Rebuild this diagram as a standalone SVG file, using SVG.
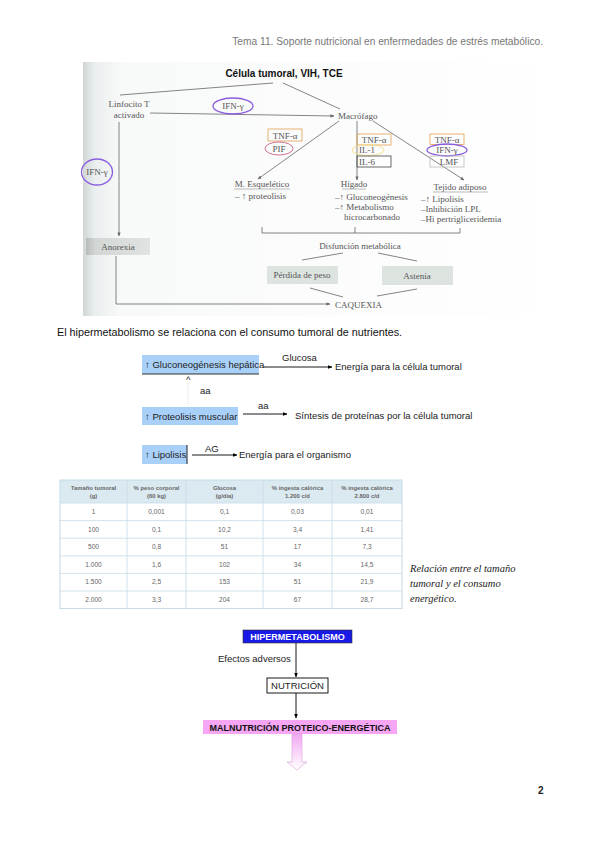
<svg xmlns="http://www.w3.org/2000/svg" width="599" height="848" viewBox="0 0 599 848">
<defs>
<linearGradient id="scanL" x1="0" y1="0" x2="1" y2="0">
<stop offset="0" stop-color="#d0d6d6"/><stop offset="0.025" stop-color="#eaeeee"/><stop offset="0.08" stop-color="#f8f9f9"/><stop offset="1" stop-color="#ffffff"/>
</linearGradient>
<linearGradient id="anorex" x1="0" y1="0" x2="1" y2="0">
<stop offset="0" stop-color="#b8bcbc"/><stop offset="0.15" stop-color="#d2d6d4"/><stop offset="1" stop-color="#dfe3e1"/>
</linearGradient>
<linearGradient id="pinkArrow" x1="0" y1="0" x2="0" y2="1">
<stop offset="0" stop-color="#f2a8f2"/><stop offset="1" stop-color="#ffffff"/>
</linearGradient>
<marker id="ag" viewBox="0 0 10 10" refX="9" refY="5" markerWidth="5" markerHeight="5" orient="auto">
<path d="M0,1 L10,5 L0,9 z" fill="#666"/>
</marker>
<marker id="ab" viewBox="0 0 10 10" refX="9" refY="5" markerWidth="5" markerHeight="5" orient="auto">
<path d="M0,1 L10,5 L0,9 z" fill="#000"/>
</marker>
<style>
.hdr{font-family:"Liberation Sans",Arial,sans-serif;font-size:10.2px;fill:#777}
.body{font-family:"Liberation Sans",Arial,sans-serif;font-size:10.8px;fill:#111}
.sc{font-family:"Liberation Serif","Times New Roman",serif;font-size:9px;fill:#555}
.scb{font-family:"Liberation Sans",Arial,sans-serif;font-size:10px;font-weight:bold;fill:#111}
.fl{font-family:"Liberation Sans",Arial,sans-serif;font-size:9.5px;fill:#222}
.tb{font-family:"Liberation Sans",Arial,sans-serif;font-size:6.6px;fill:#666;text-anchor:middle}
.th{font-family:"Liberation Sans",Arial,sans-serif;font-size:5.9px;font-weight:bold;fill:#666;text-anchor:middle}
.cap{font-family:"Liberation Serif","Times New Roman",serif;font-size:10.5px;font-style:italic;fill:#222}
.bx{font-family:"Liberation Sans",Arial,sans-serif;font-size:9px;font-weight:bold;text-anchor:middle}
.gl{stroke:#666;stroke-width:0.8;fill:none}
.bl{stroke:#000;stroke-width:0.9;fill:none}
.mid{text-anchor:middle}
</style>
</defs>
<rect width="599" height="848" fill="#ffffff"/>

<text class="hdr" x="543" y="45" text-anchor="end">Tema 11. Soporte nutricional en enfermedades de estrés metabólico.</text>

<!-- scanned figure background -->
<rect x="83" y="62" width="473" height="254" fill="url(#scanL)"/>

<g id="connectors">
<!-- scanned figure -->
<line class="gl" x1="273" y1="83" x2="120" y2="95"/>
<line class="gl" x1="283" y1="83" x2="340" y2="109"/>
<line class="gl" x1="150" y1="113" x2="334" y2="116" marker-end="url(#ag)"/>
<line class="gl" x1="119" y1="122" x2="119" y2="236" marker-end="url(#ag)"/>
<line class="gl" x1="339" y1="121" x2="258" y2="179" marker-end="url(#ag)"/>
<line class="gl" x1="357" y1="121" x2="357" y2="180" marker-end="url(#ag)"/>
<line class="gl" x1="373" y1="121" x2="464" y2="180" marker-end="url(#ag)"/>
<polyline class="gl" points="262,227 262,233 460,233 460,228"/>
<line class="gl" x1="355" y1="227" x2="355" y2="233"/>
<line class="gl" x1="343" y1="253" x2="302" y2="260"/>
<line class="gl" x1="378" y1="253" x2="417" y2="261"/>
<line class="gl" x1="310" y1="288" x2="343" y2="297"/>
<line class="gl" x1="417" y1="289" x2="377" y2="296"/>
<polyline class="gl" points="116,256 116,304 330,304" marker-end="url(#ag)"/>
<!-- flow 1 -->
<line class="bl" x1="263" y1="367" x2="332" y2="367" stroke-width="0.7" marker-end="url(#ab)"/>
<line x1="188" y1="383" x2="188" y2="405" stroke="#ccc" stroke-width="0.7" stroke-dasharray="1,1"/>
<line class="bl" x1="243" y1="414" x2="287" y2="414" stroke-width="0.7" marker-end="url(#ab)"/>
<line class="bl" x1="192" y1="455" x2="237" y2="455" stroke-width="0.7" marker-end="url(#ab)"/>
<!-- bottom flow -->
<line class="bl" x1="296" y1="643" x2="296" y2="677" stroke-width="1.1" marker-end="url(#ab)"/>
<line class="bl" x1="296" y1="693" x2="296" y2="718" stroke-width="1.1" marker-end="url(#ab)"/>
</g>

<text class="scb mid" x="284" y="77">Célula tumoral, VIH, TCE</text>

<g id="linfocito">
<text class="sc mid" x="129" y="107">Linfocito T</text>
<text class="sc mid" x="129" y="118">activado</text>
</g>
<g id="ifn-top">
<ellipse cx="233" cy="106" rx="20" ry="8" fill="none" stroke="#8a5ce0" stroke-width="1.3"/>
<text class="sc mid" x="233" y="109" font-size="8">IFN-γ</text>
</g>
<g id="ifn-left">
<ellipse cx="97" cy="172" rx="15.5" ry="13" fill="none" stroke="#8a5ce0" stroke-width="1.3"/>
<text class="sc mid" x="97" y="175" font-size="8">IFN-γ</text>
</g>
<g id="macrofago">
<text class="sc" x="338" y="119">Macrófago</text>
</g>
<g id="cyto-left">
<rect x="268" y="129" width="34" height="12" fill="none" stroke="#e0a050" stroke-width="0.8"/>
<text class="sc mid" x="285" y="139" font-size="8.5">TNF-α</text>
<ellipse cx="279" cy="148.5" rx="14" ry="6.5" fill="none" stroke="#c8608a" stroke-width="0.9"/>
<text class="sc mid" x="279" y="151.5" font-size="8.5">PIF</text>
</g>
<g id="cyto-mid">
<rect x="357" y="134" width="34" height="11" fill="none" stroke="#e0a050" stroke-width="0.8"/>
<text class="sc mid" x="374" y="143" font-size="8.5">TNF-α</text>
<ellipse cx="368" cy="150" rx="16" ry="5.5" fill="none" stroke="#f5dc80" stroke-width="0.9"/>
<text class="sc" x="359" y="153" font-size="8.5">IL-1</text>
<rect x="357" y="156" width="34" height="11" fill="none" stroke="#444" stroke-width="0.8"/>
<text class="sc" x="359" y="165" font-size="8.5">IL-6</text>
</g>
<g id="cyto-right">
<rect x="430" y="134" width="34" height="10.5" fill="none" stroke="#e0a050" stroke-width="0.8"/>
<text class="sc mid" x="447" y="142.5" font-size="8.5">TNF-α</text>
<ellipse cx="447" cy="150" rx="20" ry="6" fill="none" stroke="#8a5ce0" stroke-width="1.3"/>
<text class="sc mid" x="447" y="153" font-size="8.5">IFN-γ</text>
<rect x="430" y="156" width="34" height="11" fill="none" stroke="#bbb" stroke-width="0.8"/>
<text class="sc mid" x="449" y="165" font-size="8.5">LMF</text>
</g>
<g id="m-esqueletico">
<text class="sc mid" x="262" y="187">M. Esquelético</text>
<line x1="234" y1="189" x2="290" y2="189" stroke="#777" stroke-width="0.5"/>
<text class="sc" x="235" y="199">– ↑ proteolisis</text>
</g>
<g id="higado">
<text class="sc mid" x="354" y="187">Hígado</text>
<line x1="342" y1="189" x2="366" y2="189" stroke="#777" stroke-width="0.5"/>
<text class="sc" x="335" y="200">–↑ Gluconeogénesis</text>
<text class="sc" x="335" y="210">–↑ Metabolismo</text>
<text class="sc" x="344" y="220">hicrocarbonado</text>
</g>
<g id="tejido">
<text class="sc mid" x="460" y="190">Tejido adiposo</text>
<line x1="433" y1="192" x2="488" y2="192" stroke="#777" stroke-width="0.5"/>
<text class="sc" x="421" y="202">–↑ Lipolisis</text>
<text class="sc" x="421" y="212">–Inhibición LPL</text>
<text class="sc" x="421" y="222">–Hi pertrigliceridemia</text>
</g>
<g id="disfuncion">
<text class="sc mid" x="360" y="249">Disfunción metabólica</text>
</g>
<g id="anorexia">
<rect x="86" y="238" width="64" height="17" fill="url(#anorex)"/>
<text class="sc mid" x="118" y="250" font-size="8.5">Anorexia</text>
</g>
<g id="perdida">
<rect x="267" y="266" width="71" height="18" fill="#dde4e0"/>
<text class="sc mid" x="302" y="278" font-size="8.5">Pérdida de peso</text>
</g>
<g id="astenia">
<rect x="382" y="266" width="71" height="19" fill="#dde4e0"/>
<text class="sc mid" x="417" y="279" font-size="8.5">Astenia</text>
</g>
<g id="caquexia">
<text class="sc" x="335" y="308" font-size="8.5">CAQUEXIA</text>
</g>

<text class="body" x="57" y="336">El hipermetabolismo se relaciona con el consumo tumoral de nutrientes.</text>

<g id="gluconeo">
<rect x="142" y="355" width="117" height="19" fill="#a8d0f8"/>
<line x1="142" y1="374" x2="259" y2="374" stroke="#333" stroke-width="1"/>
<text class="fl" x="145" y="368">↑ Gluconeogénesis hepática</text>
</g>
<text class="fl" x="282" y="361">Glucosa</text>
<text class="fl" x="335" y="370">Energía para la célula tumoral</text>
<text class="fl" x="186" y="383" font-size="8">^</text>
<text class="fl" x="200" y="394">aa</text>
<g id="proteolisis">
<rect x="142" y="407" width="96" height="18" fill="#a8d0f8"/>
<text class="fl" x="145" y="420">↑ Proteolisis muscular</text>
</g>
<text class="fl" x="258" y="409">aa</text>
<text class="fl" x="295" y="419">Síntesis de proteínas por la célula tumoral</text>
<g id="lipolisis">
<rect x="142" y="445" width="45" height="19" fill="#a8d0f8"/>
<line x1="187" y1="445" x2="187" y2="464" stroke="#222" stroke-width="1"/>
<text class="fl" x="145" y="458">↑ Lipolisis</text>
</g>
<text class="fl" x="205" y="452">AG</text>
<text class="fl" x="239" y="458">Energía para el organismo</text>

<g id="tabla">
<rect x="60" y="480" width="342" height="23" fill="#dbe9f1"/>
<rect x="60" y="480" width="342" height="128.6" fill="none" stroke="#c5dbe7" stroke-width="1"/>
<g stroke="#c5dbe7" stroke-width="0.8">
<line x1="127" y1="480" x2="127" y2="608.6"/>
<line x1="186" y1="480" x2="186" y2="608.6"/>
<line x1="263" y1="480" x2="263" y2="608.6"/>
<line x1="332" y1="480" x2="332" y2="608.6"/>
<line x1="60" y1="503" x2="402" y2="503"/>
<line x1="60" y1="520.6" x2="402" y2="520.6"/>
<line x1="60" y1="538.2" x2="402" y2="538.2"/>
<line x1="60" y1="555.8" x2="402" y2="555.8"/>
<line x1="60" y1="573.4" x2="402" y2="573.4"/>
<line x1="60" y1="591" x2="402" y2="591"/>
</g>
<text class="th" x="93.5" y="489.5">Tamaño tumoral</text><text class="th" x="93.5" y="497.5">(g)</text>
<text class="th" x="156.5" y="489.5">% peso corporal</text><text class="th" x="156.5" y="497.5">(60 kg)</text>
<text class="th" x="224.5" y="489.5">Glucosa</text><text class="th" x="224.5" y="497.5">(g/día)</text>
<text class="th" x="297.5" y="489.5">% ingesta calórica</text><text class="th" x="297.5" y="497.5">1.200 c/d</text>
<text class="th" x="367" y="489.5">% ingesta calórica</text><text class="th" x="367" y="497.5">2.800 c/d</text>
<g>
<text class="tb" x="93.5" y="514">1</text><text class="tb" x="156.5" y="514">0,001</text><text class="tb" x="224.5" y="514">0,1</text><text class="tb" x="297.5" y="514">0,03</text><text class="tb" x="367" y="514">0,01</text>
<text class="tb" x="93.5" y="531.6">100</text><text class="tb" x="156.5" y="531.6">0,1</text><text class="tb" x="224.5" y="531.6">10,2</text><text class="tb" x="297.5" y="531.6">3,4</text><text class="tb" x="367" y="531.6">1,41</text>
<text class="tb" x="93.5" y="549.2">500</text><text class="tb" x="156.5" y="549.2">0,8</text><text class="tb" x="224.5" y="549.2">51</text><text class="tb" x="297.5" y="549.2">17</text><text class="tb" x="367" y="549.2">7,3</text>
<text class="tb" x="93.5" y="566.8">1.000</text><text class="tb" x="156.5" y="566.8">1,6</text><text class="tb" x="224.5" y="566.8">102</text><text class="tb" x="297.5" y="566.8">34</text><text class="tb" x="367" y="566.8">14,5</text>
<text class="tb" x="93.5" y="584.4">1.500</text><text class="tb" x="156.5" y="584.4">2,5</text><text class="tb" x="224.5" y="584.4">153</text><text class="tb" x="297.5" y="584.4">51</text><text class="tb" x="367" y="584.4">21,9</text>
<text class="tb" x="93.5" y="602">2.000</text><text class="tb" x="156.5" y="602">3,3</text><text class="tb" x="224.5" y="602">204</text><text class="tb" x="297.5" y="602">67</text><text class="tb" x="367" y="602">28,7</text>
</g>
</g>

<g id="caption">
<text class="cap" x="410" y="572">Relación entre el tamaño</text>
<text class="cap" x="410" y="587">tumoral y el consumo</text>
<text class="cap" x="410" y="602">energético.</text>
</g>

<g id="hipermetabolismo">
<rect x="243" y="630" width="109" height="13" fill="#1a1ae6" stroke="#333" stroke-width="0.6"/>
<text class="bx" x="297.5" y="640" fill="#ffffff">HIPERMETABOLISMO</text>
</g>
<text class="fl" x="218" y="662" font-size="8.5">Efectos adversos</text>
<g id="nutricion">
<rect x="267" y="678" width="61" height="15" fill="#ffffff" stroke="#000" stroke-width="0.9"/>
<text class="fl mid" x="297.5" y="689" font-size="8.5">NUTRICIÓN</text>
</g>
<g id="malnutricion">
<rect x="203" y="720" width="194" height="14" fill="#f6a6f4"/>
<text class="bx" x="300" y="730.5" fill="#111">MALNUTRICIÓN PROTEICO-ENERGÉTICA</text>
</g>
<path d="M292,734 L302,734 L302,762 L307,762 L297,770 L287,762 L292,762 z" fill="url(#pinkArrow)" stroke="#d8a0d8" stroke-width="0.6"/>

<text x="538" y="794" font-family="'Liberation Sans',Arial,sans-serif" font-size="10" font-weight="bold" fill="#222">2</text>
</svg>
